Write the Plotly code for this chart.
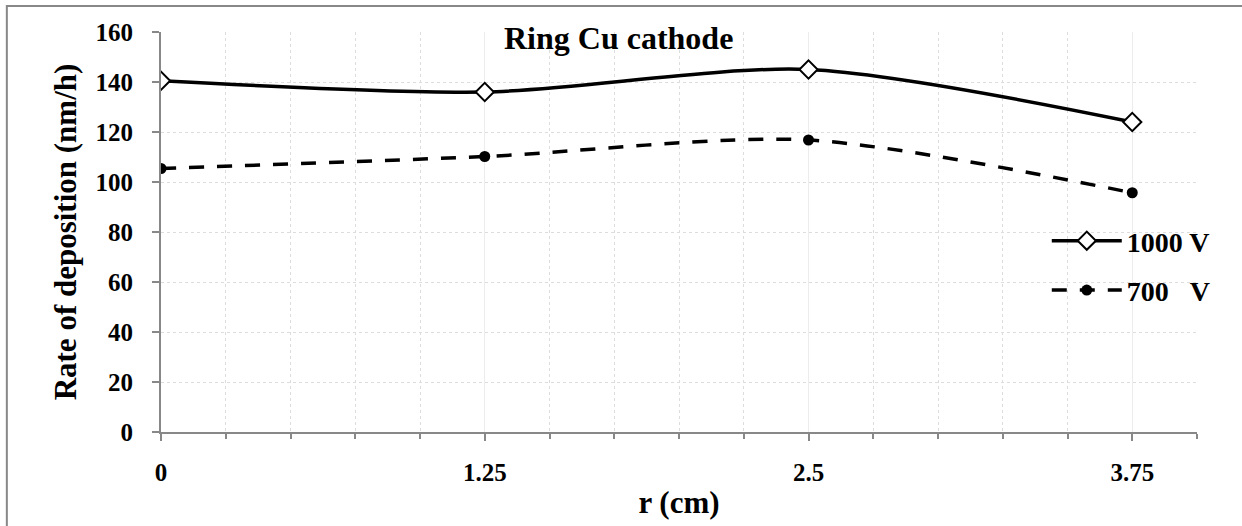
import plotly.graph_objects as go

r_cm = [0, 1.25, 2.5, 3.75]
rate_1000 = [140.5, 136, 145, 124]
rate_700 = [105.4, 110.2, 116.8, 95.7]
x_ticks = [0, 1.25, 2.5, 3.75]
x_ticktext = ["0", "1.25", "2.5", "3.75"]
y_ticks = [0, 20, 40, 60, 80, 100, 120, 140, 160]

FONT = "Liberation Serif, Times New Roman, serif"

fig = go.Figure()
fig.add_trace(go.Scatter(
    x=r_cm, y=rate_1000, name="<b>1000 V</b>", mode="lines+markers",
    line=dict(color="black", width=3.5, shape="spline", smoothing=0.8),
    marker=dict(symbol="diamond", size=14, color="white", line=dict(color="black", width=2)),
    legendgroup="a",
))
fig.add_trace(go.Scatter(
    x=r_cm, y=rate_700, name="<b>700\u00a0\u00a0\u00a0V</b>", mode="lines+markers",
    line=dict(color="black", width=3.5, shape="spline", smoothing=0.8, dash="15px,13px"),
    marker=dict(symbol="circle", size=11, color="black"),
    legendgroup="b",
))

axis_line = "#888888"
fig.update_layout(
    width=1242, height=526,
    margin=dict(l=161, r=45, t=32, b=83),
    paper_bgcolor="white", plot_bgcolor="white",
    font=dict(family=FONT, color="black", size=25),
    showlegend=True,
    legend=dict(x=0.855, y=0.54, xanchor="left", yanchor="top",
                font=dict(size=28, family=FONT), itemwidth=70,
                bgcolor="rgba(0,0,0,0)", traceorder="grouped", tracegroupgap=10),
    annotations=[dict(text="<b>Ring Cu cathode</b>", x=0.442, y=0.985, xref="paper", yref="paper",
                      xanchor="center", yanchor="middle", showarrow=False,
                      font=dict(size=32, family=FONT))],
    shapes=[dict(type="rect", xref="paper", yref="paper", x0=-0.1488, x1=1.1, y0=1.065, y1=-0.3,
                 line=dict(color="#888888", width=2), layer="below")],
)
fig.update_xaxes(
    range=[0, 4], tickvals=x_ticks, ticktext=x_ticktext,
    tickfont=dict(size=25, family=FONT, weight="bold"), ticks="outside", ticklen=7, tickwidth=2, tickcolor=axis_line,
    showline=True, linecolor=axis_line, linewidth=2,
    showgrid=True, gridcolor="#ececec", gridwidth=1,
    minor=dict(dtick=0.25, tick0=0, ticks="outside", ticklen=5, tickwidth=2, tickcolor=axis_line,
               showgrid=True, gridcolor="#dddddd", griddash="dot", gridwidth=1),
    title=dict(text="<b>r (cm)</b>", font=dict(size=31, family=FONT), standoff=6),
    ticklabelstandoff=10, zeroline=False,
)
fig.update_yaxes(
    range=[0, 160], tickvals=y_ticks,
    tickfont=dict(size=25, family=FONT, weight="bold"), ticks="outside", ticklen=7, tickwidth=2, tickcolor=axis_line,
    showline=True, linecolor=axis_line, linewidth=2,
    showgrid=True, gridcolor="#dddddd", griddash="dot", gridwidth=1,
    title=dict(text="<b>Rate of deposition (nm/h)</b>", font=dict(size=31, family=FONT), standoff=10),
    ticklabelstandoff=14, zeroline=False,
)

fig.write_html("out.html")
